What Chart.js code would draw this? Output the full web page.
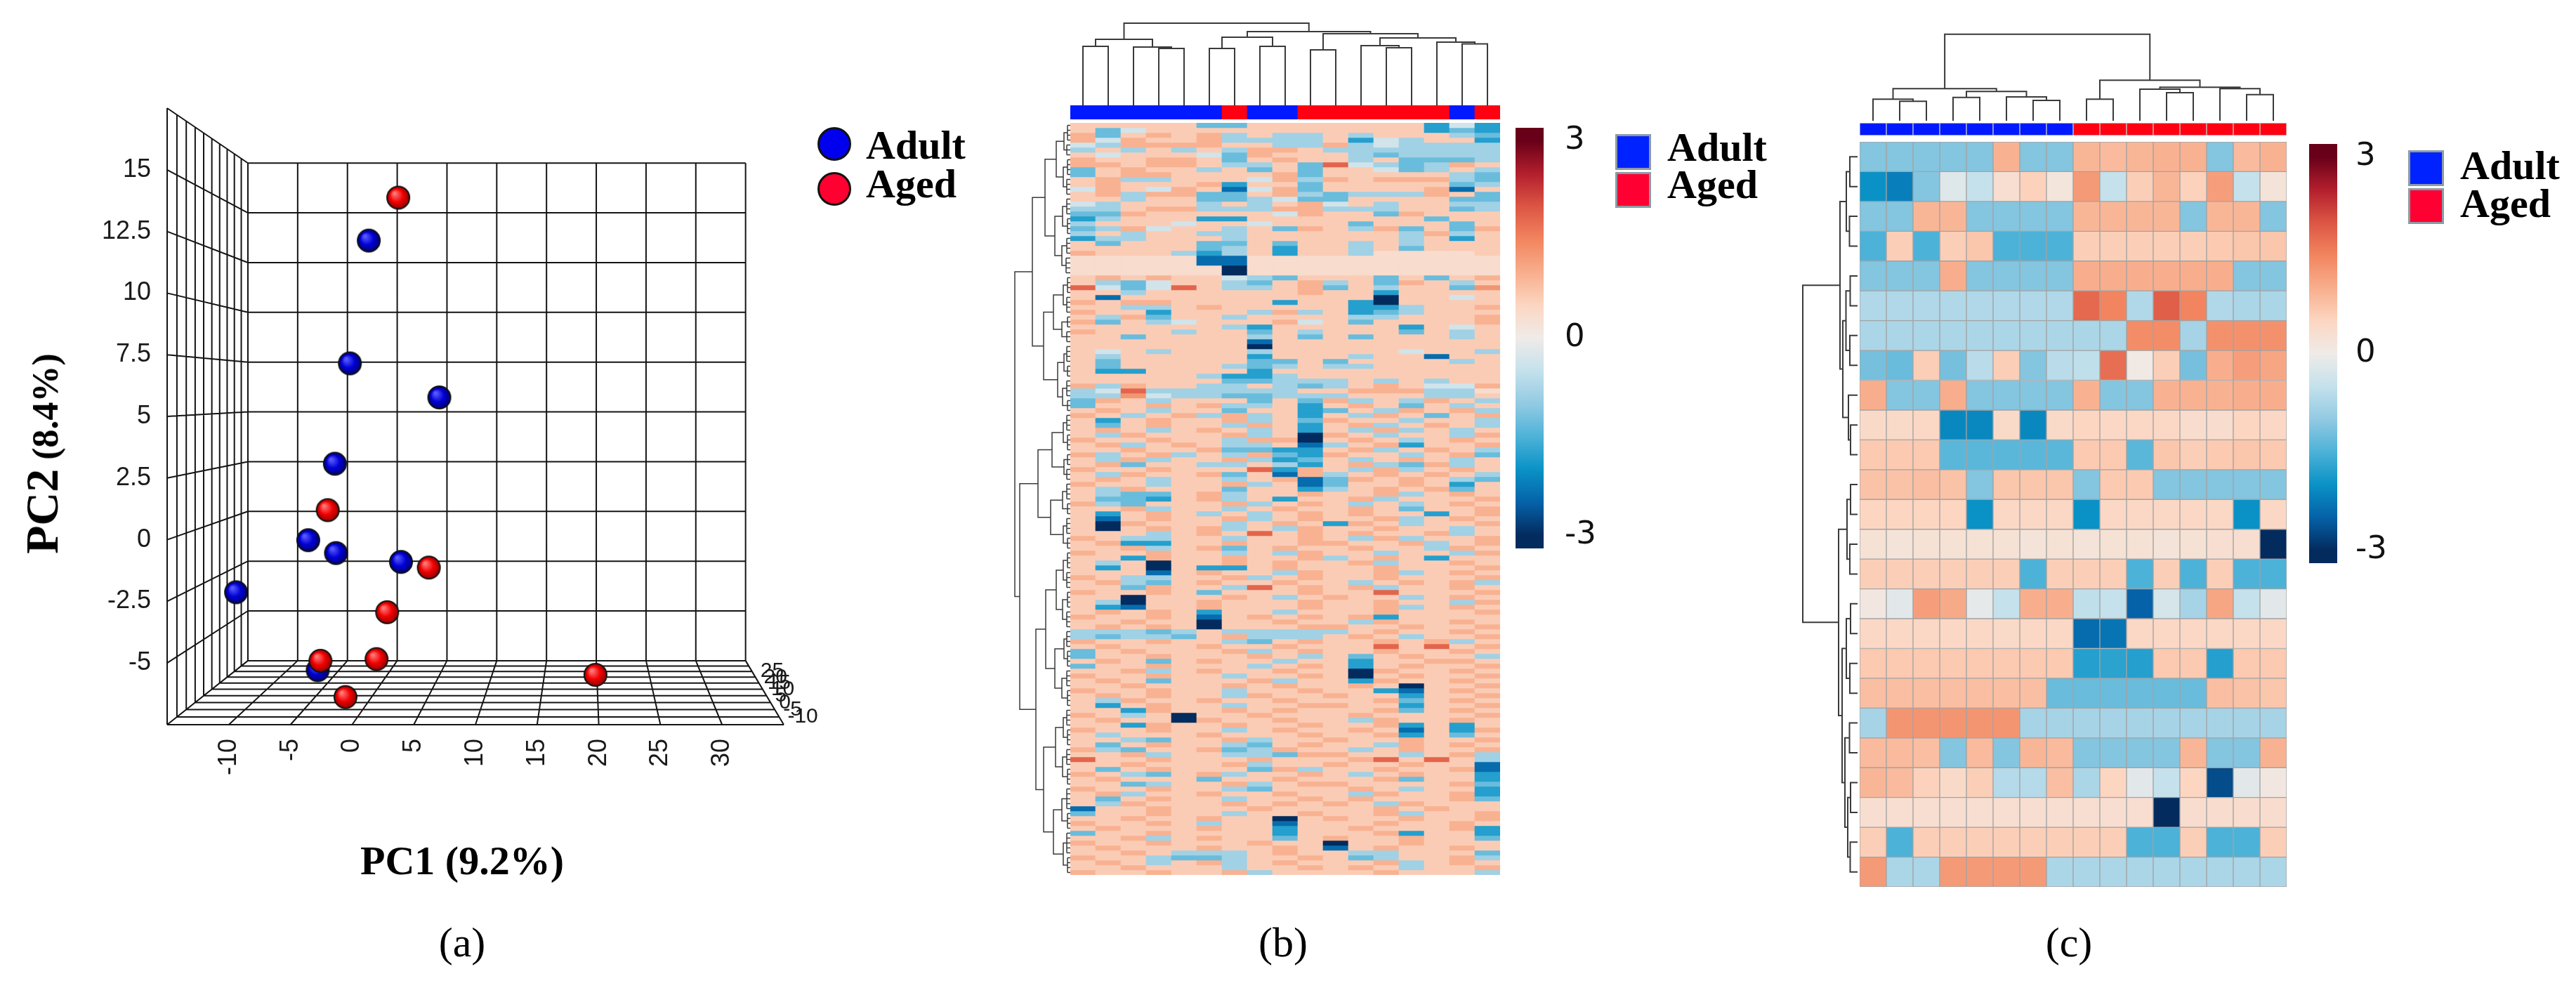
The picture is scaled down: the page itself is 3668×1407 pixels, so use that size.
<!DOCTYPE html>
<html><head><meta charset="utf-8"><title>PCA and heatmaps: Adult vs Aged</title>
<script src="https://cdn.jsdelivr.net/npm/chart.js@4.4.1/dist/chart.umd.min.js"></script>
<style>
html,body{margin:0;padding:0;background:#fff;}
#root{position:relative;width:3668px;height:1407px;overflow:hidden;background:#fff;}
#root canvas{position:absolute;}
.t{position:absolute;white-space:nowrap;color:#000;line-height:1;}
.sw{position:absolute;box-sizing:border-box;}
</style></head>
<body><div id="root"></div>
<script>
// ================= DATA =================
// (a) PCA scores (read on the front scale of the 3D box)
const pcaGroups = ['Adult', 'Aged'];
const adultPC1 = [1.35, -0.18, 7.07, -1.40, -3.56, -1.31, 3.96, -9.41, -2.79];
const adultPC2 = [12.13, 7.15, 5.77, 3.08, -0.02, -0.54, -0.90, -2.13, -5.29];
const agedPC1  = [3.74, -1.98, 6.22, 2.84, -2.57, 1.98, -0.54, 19.73];
const agedPC2  = [13.87, 1.20, -1.13, -2.94, -4.91, -4.84, -6.38, -5.48];
const pc1Ticks = [-10, -5, 0, 5, 10, 15, 20, 25, 30];
const pc2Ticks = [-5, -2.5, 0, 2.5, 5, 7.5, 10, 12.5, 15];
const pc3Ticks = [-10, -5, 0, 5, 10, 15, 20, 25];
const pc1Range = [-15, 35];
const pc2Range = [-7.5, 17.5];
const pc3Range = [-15, 35];

// (b) heatmap: 17 samples, rows coded as levels
const groupsB = ['Adult','Adult','Adult','Adult','Adult','Adult','Aged','Adult','Adult','Aged','Aged','Aged','Aged','Aged','Aged','Adult','Aged'];
const levelsB = {'0':-3,'1':-2.4,'2':-1.8,'3':-1.3,'4':-0.85,'5':-0.35,'6':0.35,'7':0.62,'8':0.95,'9':1.3,'r':1.85};
const heatB = [
"77777 33777 77772 52","73577 77777 77772 32","83787 84744 74777 43","85877 84444 72547 72","54888 87744 84544 44",
"47474 74887 44444 44","75777 53877 74344 44","87788 73787 74733 34","88788 74473 r5434 87","37877 47373 77534 74",
"37887 77783 77777 43","78447 77584 87888 43","78777 82773 77777 34","58758 71583 77778 17","78488 33784 34448 73",
"77477 33453 37777 33","54777 47478 57477 44","44788 44488 44477 34","33877 77758 77387 77","24777 22777 77773 77",
"47775 77577 73777 37","34857 74738 74837 38","47477 44777 77748 47","24477 74777 77747 27","73777 33737 74747 77",
"77777 34727 74737 77","87774 24727 74666 67","66666 11666 66666 66","66666 11666 66666 66","66666 60666 66666 66",
"66666 60666 66666 66","78787 75437 77373 78","74357 74378 47387 47","r535r 74478 37477 39","77477 77778 77277 77",
"71777 77777 77077 57","87887 77727 72077 77","77447 87777 72247 78","87727 77484 72347 77","74837 74777 74477 78",
"83745 77785 73777 78","77777 74277 77727 57","87774 77374 77737 47","77377 77473 73777 47","77777 77177 77777 77",
"77777 77077 77777 77","75747 77477 77757 74","74777 77277 74771 77","73777 77337 37777 47","73777 74347 44777 77",
"72277 77277 77777 77","77777 42247 77777 77","77777 73344 47474 77","84877 44743 47875 58","45r44 44447 78884 46",
"44954 43344 47774 47",
"38747 77373 84748 74","37787 84472 78737 47","78747 73772 37487 84","87478 48472 74873 78","72787 78473 87747 74",
"73787 74872 78478 74","78747 87472 74847 47","74877 78470 87477 48","87787 74880 78747 87","78478 74471 47827 78",
"77877 83322 78478 74","84784 74832 87747 83","74847 78423 74787 47","78377 44742 78438 47","87787 77r28 74847 87",
"74877 83718 47878 74","78747 74781 38787 43","87747 78471 37787 27","74877 73772 47878 37","74337 84778 77847 87",
"73327 84727 78477 78","84377 78478 74747 87","77847 74787 78737 78","72787 47478 78772 78","71787 78478 77847 87",
"70877 74787 28747 78","70787 84748 77877 47","77747 87r78 78778 47","87447 74778 74847 78","78227 78778 87784 78",
"77847 83787 78774 87","87787 74748 77477 48","77287 78778 47872 77","74707 78787 78477 87","72707 22787 77877 78",
"77717 87748 77847 87","87447 78478 77877 78","78437 87787 74787 84","77387 74r78 78477 87","87787 37778 77r77 78",
"77077 78747 87747 87","74077 87778 77877 48","72177 87778 77847 87","78787 27747 77877 78","87787 17878 78277 77",
"77877 07787 74877 87","78787 07778 87787 78","44434 74444 47877 87","43443 78444 78747 78","87787 74378 77878 47",
"78777 87787 77r7r 78","37877 78478 77877 87","37787 77874 73787 74","78737 87747 72778 87","37787 77478 72787 78",
"77847 87787 70877 87","87787 74778 70787 78","78737 77847 72877 87","77877 78787 78707 78","87787 74778 77217 87",
"78787 74877 87727 78","74877 87787 77837 87","72787 74778 87727 78","77287 78787 77837 87","87470 77877 78777 78",
"78770 87787 74877 87","77287 78778 77827 27","87787 74787 78717 28","74777 87778 77827 37","77437 78477 87787 78",
"73787 74378 77487 87","84377 83487 74787 78","77847 74438 87747 84","r7787 77877 78r7r 74","77877 78477 87787 71",
"73787 77384 77877 81","87437 84778 74787 72","78777 37787 77837 72","77347 78478 87777 83","87787 74377 78747 72",
"78477 87787 74877 82","73787 74778 78777 83","74877 78787 87487 77","17787 77877 77878 77","37787 74778 77847 78",
"77877 87707 87787 78","87787 47717 77877 87","78777 87727 78777 82","37787 77727 77827 72","77847 87737 87787 73",
"87787 77877 07787 77","78777 87787 17877 87","77874 44787 74477 73","87743 34778 73477 84","78747 84787 77847 87",
"77877 74778 78747 78","87787 78477 77877 74"
];
// column dendrogram (b): [left, right, height]
const colTreeB = [[[0,1,84],[2,[3,4,81],83],94],[[[5,6,81],[7,8,84],97],[[9,10,79],[[11,[12,13,82],85],[14,[15,16,87.5],90],96],102],105],117];
// row dendrogram (b): "first-last:height" are tight leaf blocks
const rowTreeB = [
  [[[["0-3:4","4-6:5",9],["7-10:4","11-14:5",10],20],[["15-18:5","19-22:4",11],["23-26:5","27-30:6",12],22],36],
   [[["31-34:4","35-38:5",10],["39-41:4","42-44:5",12],24],[["45-48:5","49-51:4",9],["52-55:5","56-58:4",11],18],38],54],
  [[[["59-62:5","63-66:4",10],["67-69:4","70-72:5",9],26],[["73-76:5","77-79:4",11],["80-83:5","84-86:4",10],28],46],
   [[[["87-90:4","91-94:5",10],["95-98:4","99-102:5",11],20],[["103-106:5","107-110:4",9],["111-114:5","115-118:4",12],22],35],
    [[["119-122:5","123-126:4",10],["127-130:5","131-134:4",11],21],[["135-139:5","140-143:4",12],["144-148:5","149-152:4",10],24],38],49],72],
  79];

// (c) heatmap: 16 samples x 25 features
const groupsC = ['Adult','Adult','Adult','Adult','Adult','Adult','Adult','Adult','Aged','Aged','Aged','Aged','Aged','Aged','Aged','Aged'];
const heatC = [
[-1.1,-1.1,-1.1,-1.1,-1.1,0.95,-1.1,-1.1,0.9,0.85,0.9,0.95,0.95,-1.1,0.85,0.95],
[-2.0,-2.2,-1.1,-0.2,-0.5,0.3,0.55,0.15,1.25,-0.5,0.6,0.9,0.55,1.2,-0.5,0.2],
[-1.1,-1.1,0.9,0.9,-1.1,-1.1,-1.1,-1.1,0.9,0.9,0.9,0.9,-1.1,0.9,0.9,-1.1],
[-1.5,0.6,-1.5,0.6,0.7,-1.5,-1.5,-1.5,0.6,0.6,0.6,0.6,0.6,0.65,0.7,0.7],
[-1.1,-1.1,-1.1,1.0,-1.1,-1.1,-1.1,-1.1,1.0,1.0,1.0,1.0,1.0,1.0,-1.1,-1.1],
[-0.7,-0.7,-0.7,-0.7,-0.7,-0.7,-0.7,-0.7,1.8,1.5,-0.7,1.9,1.5,-0.7,-0.75,-0.75],
[-0.75,-0.75,-0.75,-0.75,-0.75,-0.75,-0.75,-0.75,-0.75,-0.75,1.4,1.4,-0.8,1.35,1.35,1.35],
[-1.2,-1.3,0.6,-1.2,-0.6,0.6,-1.1,-0.6,-0.55,1.75,0.05,0.6,-1.2,1.0,1.2,1.1],
[1.0,-1.1,-1.1,1.0,-1.1,-1.1,-1.1,-1.1,0.95,-1.1,-1.1,0.95,0.95,0.95,1.0,1.0],
[0.4,0.4,0.45,-2.1,-2.1,0.4,-2.1,0.4,0.5,0.45,0.45,0.45,0.35,0.35,0.5,0.45],
[0.65,0.65,0.65,-1.4,-1.4,-1.4,-1.4,-1.4,0.65,0.65,-1.4,0.7,0.6,0.65,0.7,0.65],
[0.75,0.75,0.8,0.75,-1.1,0.7,0.7,0.7,-1.1,0.65,0.65,-1.1,-1.1,-1.1,-1.1,-1.1],
[0.5,0.5,0.5,0.5,-2.0,0.45,0.45,0.45,-2.0,0.45,0.45,0.45,0.45,0.45,-2.0,0.45],
[0.25,0.2,0.25,0.25,0.25,0.25,0.2,0.25,0.2,0.25,0.25,0.2,0.25,0.3,0.3,-3.0],
[0.6,0.6,0.6,0.6,0.6,0.6,-1.5,0.6,0.6,0.6,-1.5,0.6,-1.5,0.6,-1.5,-1.5],
[0.1,-0.15,1.2,1.05,-0.1,-0.5,1.0,1.0,-0.55,-0.5,-2.5,-0.3,-0.8,1.1,-0.5,-0.15],
[0.45,0.45,0.45,0.45,0.45,0.4,0.45,0.45,-2.4,-2.3,0.45,0.45,0.45,0.45,0.45,0.45],
[0.65,0.65,0.65,0.65,0.65,0.65,0.65,0.65,-1.8,-1.75,-1.8,0.65,0.65,-1.8,0.65,0.65],
[0.8,0.8,0.8,0.8,0.8,0.8,0.8,-1.3,-1.3,-1.3,-1.3,-1.3,-1.3,0.8,0.75,0.7],
[-0.8,1.3,1.3,1.3,1.3,1.3,-0.8,-0.8,-0.8,-0.8,-0.8,-0.8,-0.8,-0.8,-0.8,-0.8],
[0.85,0.85,0.8,-1.1,0.85,-1.1,0.9,0.85,-1.1,-1.1,-1.1,-1.1,0.9,-1.1,-1.1,0.95],
[0.9,0.85,0.55,0.4,0.6,-0.65,-0.65,0.8,-0.75,0.5,-0.15,-0.5,0.5,-2.7,-0.15,0.1],
[0.3,0.3,0.3,0.3,0.3,0.3,0.3,0.3,0.3,0.3,0.3,-3.0,0.35,0.35,0.35,0.35],
[0.6,-1.5,0.6,0.6,0.6,0.6,0.6,0.6,0.6,0.6,-1.5,-1.5,0.6,-1.5,-1.5,0.6],
[1.25,-0.75,-0.75,1.25,1.25,1.25,1.25,-0.75,-0.75,-0.75,-0.75,-0.75,-0.75,-0.75,-0.75,-0.75]
];
const colTreeC = [[[0,[1,2,27.7],30.7],[[3,4,33.3],[5,[6,7,29],34],41.7],45.7],[[8,9,30.7],[[10,[11,12,40],45],[13,[14,15,37.3],45.7],47.7],57.7],123.3];
const rowTreeC = [[[[0,1,11],[2,3,11.5],16],[[[4,5,10.5],[6,7,11],16.5],[8,[9,10,10],13],21],25],[[[11,12,10],[13,14,11],15],[[[15,16,10],[17,18,11],16],[[19,20,11.5],[[21,22,10],[23,24,10.5],14],18],22],27],78];

const colorbarTicks = [3, 0, -3];
const colorbarRange = [-3.2, 3.2];

// ================= STYLE =================
const heatStops  = [-3, -2.5, -2, -1.5, -1, -0.5, 0, 0.5, 1, 1.5, 2, 2.5, 3];
const heatColors = ['#032b5e','#0562a8','#0a92c6','#4db2d8','#92cae2','#c4e1ec','#efebe8','#fcd6c1','#f8ae8d','#f2855f','#dc5644','#b31f2d','#680019'];
const groupColor = {Adult:'#0019ff', Aged:'#ff0012'};

function hexRgb(h){return [parseInt(h.slice(1,3),16),parseInt(h.slice(3,5),16),parseInt(h.slice(5,7),16)];}
function heatColor(v){
  v = Math.max(heatStops[0], Math.min(heatStops[heatStops.length-1], v));
  for (let i=0;i<heatStops.length-1;i++){
    if (v <= heatStops[i+1]){
      const t=(v-heatStops[i])/(heatStops[i+1]-heatStops[i]);
      const a=hexRgb(heatColors[i]), b=hexRgb(heatColors[i+1]);
      return 'rgb('+a.map((c,k)=>Math.round(c+(b[k]-c)*t)).join(',')+')';
    }
  }
  return heatColors[heatColors.length-1];
}

Chart.defaults.animation = false;
Chart.defaults.responsive = false;
Chart.defaults.devicePixelRatio = 1;
Chart.defaults.events = [];
Chart.defaults.plugins.legend.display = false;
Chart.defaults.plugins.tooltip.enabled = false;

const root = document.getElementById('root');
function mkCanvas(l,t,w,h){const c=document.createElement('canvas');c.width=w;c.height=h;c.style.left=l+'px';c.style.top=t+'px';c.style.width=w+'px';c.style.height=h+'px';root.appendChild(c);return c;}
const SERIF='"Liberation Serif","DejaVu Serif",serif';
function txt(html,x,base,size,opt){
  opt=opt||{};const d=document.createElement('div');d.className='t';d.innerHTML=html;
  d.style.fontSize=size+'px';d.style.fontFamily=opt.family||SERIF;d.style.fontWeight=opt.weight||'normal';
  d.style.top=(base-0.84*size)+'px';d.style.left=x+'px';
  if(opt.align==='center')d.style.transform='translateX(-50%)';
  root.appendChild(d);return d;
}
function swatch(l,t,w,h,bg,border){const d=document.createElement('div');d.className='sw';d.style.left=l+'px';d.style.top=t+'px';d.style.width=w+'px';d.style.height=h+'px';d.style.background=bg;d.style.border=border;root.appendChild(d);return d;}

// ================= (a) 3D PCA =================
function sphere(r,hi,mid,lo){
  const s=2*r+4,c=document.createElement('canvas');c.width=c.height=s;const g=c.getContext('2d');const cx=s/2,cy=s/2;
  const gr=g.createRadialGradient(cx-r*0.35,cy-r*0.4,r*0.08,cx,cy,r);
  gr.addColorStop(0,hi);gr.addColorStop(0.55,mid);gr.addColorStop(1,lo);
  g.beginPath();g.arc(cx,cy,r,0,Math.PI*2);g.fillStyle=gr;g.fill();g.lineWidth=2;g.strokeStyle='#111';g.stroke();return c;
}
const sphBlue=sphere(16,'#5a5aff','#0000d6','#000070');
const sphRed=sphere(16,'#ff7a7a','#f20000','#900000');

function rangeSteps(a,b,s){const o=[];for(let v=a;v<=b+1e-9;v+=s)o.push(+v.toFixed(4));return o;}
const box3d={
  id:'box3d',
  proj(chart,xv,yv,d){
    const xs=chart.scales.x,ys=chart.scales.y,a=chart.chartArea;
    const vx=a.left+0.679*(a.right-a.left), vy=a.top+0.462*(a.bottom-a.top), s=1/(1+0.239*d);
    const fx=xs.getPixelForValue(xv), fy=ys.getPixelForValue(yv);
    return [vx+(fx-vx)*s, vy+(fy-vy)*s];
  },
  beforeDatasetsDraw(chart){
    const ctx=chart.ctx,P=(x,y,d)=>this.proj(chart,x,y,d);
    const xg=rangeSteps(pc1Range[0],pc1Range[1],5), yg=rangeSteps(pc2Range[0],pc2Range[1],2.5);
    const dg=rangeSteps(pc3Range[0],pc3Range[1],5).map(v=>(v-pc3Range[0])/(pc3Range[1]-pc3Range[0]));
    const x0=pc1Range[0],x1=pc1Range[1],y0=pc2Range[0],y1=pc2Range[1];
    ctx.save();ctx.beginPath();ctx.strokeStyle='#141414';ctx.lineWidth=2;
    const L=(p,q)=>{ctx.moveTo(p[0],p[1]);ctx.lineTo(q[0],q[1]);};
    xg.forEach(v=>L(P(v,y0,1),P(v,y1,1))); yg.forEach(v=>L(P(x0,v,1),P(x1,v,1)));
    dg.forEach(d=>L(P(x0,y0,d),P(x0,y1,d))); yg.forEach(v=>L(P(x0,v,0),P(x0,v,1)));
    dg.forEach(d=>L(P(x0,y0,d),P(x1,y0,d))); xg.forEach(v=>L(P(v,y0,0),P(v,y0,1)));
    ctx.stroke();ctx.restore();
  },
  afterDraw(chart){
    const ctx=chart.ctx,xs=chart.scales.x,ys=chart.scales.y,a=chart.chartArea;
    ctx.save();ctx.fillStyle='#1a1a1a';ctx.font='36px "Liberation Sans", Arial, sans-serif';
    ctx.textAlign='right';ctx.textBaseline='middle';
    pc2Ticks.forEach(v=>ctx.fillText(String(v),a.left-23,ys.getPixelForValue(v)));
    pc1Ticks.forEach(v=>{ctx.save();ctx.translate(xs.getPixelForValue(v),a.bottom+20);ctx.rotate(-Math.PI/2);ctx.fillText(String(v),0,0);ctx.restore();});
    ctx.font='30px "Liberation Sans", Arial, sans-serif';ctx.textAlign='left';
    pc3Ticks.forEach(v=>{const d=(v-pc3Range[0])/(pc3Range[1]-pc3Range[0]);const p=this.proj(chart,pc1Range[1],pc2Range[0],d);ctx.fillText(String(v),p[0]+12,p[1]);});
    ctx.restore();
  }
};
new Chart(mkCanvas(0,0,1270,1407),{
  type:'scatter',
  data:{datasets:[
    {label:pcaGroups[1],data:agedPC1.map((x,i)=>({x,y:agedPC2[i]})),pointStyle:sphRed,pointRadius:16},
    {label:pcaGroups[0],data:adultPC1.map((x,i)=>({x,y:adultPC2[i]})),pointStyle:sphBlue,pointRadius:16}
  ]},
  options:{layout:{padding:{left:238,top:154,right:154,bottom:375}},
    scales:{x:{type:'linear',display:false,min:pc1Range[0],max:pc1Range[1]},y:{type:'linear',display:false,min:pc2Range[0],max:pc2Range[1]}}},
  plugins:[box3d]
});
// legend (a)
swatch(1164,181,48,48,'#0000ee','3px solid #111').style.borderRadius='50%';
swatch(1164,245,48,48,'#ff0030','3px solid #111').style.borderRadius='50%';
txt(pcaGroups[0],1233,227,58,{weight:'bold'});
txt(pcaGroups[1],1233,282,58,{weight:'bold'});
// axis titles (a)
(function(){const d=document.createElement('div');d.className='t';
  d.innerHTML='<span style="font-size:66px">PC2</span><span style="font-size:52px"> (8.4%)</span>';
  d.style.fontFamily=SERIF;d.style.fontWeight='bold';d.style.left='60px';d.style.top='646px';
  d.style.transform='translate(-50%,-50%) rotate(-90deg)';root.appendChild(d);})();
txt('PC1 (9.2%)',658,1246,58,{weight:'bold',align:'center'});
txt('(a)',658,1362,60,{align:'center'});
txt('(b)',1827,1362,60,{align:'center'});
txt('(c)',2946,1362,60,{align:'center'});

// ================= heatmaps =================
function heatmap(canvas,rows,groups,border){
  new Chart(canvas,{type:'bar',
    data:{labels:groups.map((g,i)=>g+' '+(i+1)),
      datasets:rows.map(r=>({data:r.map(()=>1),backgroundColor:r.map(heatColor),borderWidth:border?1:0,borderColor:border||'transparent',borderSkipped:false,barPercentage:1,categoryPercentage:1}))},
    options:{layout:{padding:0},scales:{x:{display:false,stacked:true},y:{display:false,stacked:true,reverse:true,min:0,max:rows.length}}}});
}
function annot(canvas,groups,border){
  new Chart(canvas,{type:'bar',
    data:{labels:groups.map((g,i)=>g+' '+(i+1)),datasets:[{data:groups.map(()=>1),backgroundColor:groups.map(g=>groupColor[g]),borderWidth:border?1:0,borderColor:border||'transparent',borderSkipped:false,barPercentage:1,categoryPercentage:1}]},
    options:{layout:{padding:0},scales:{x:{display:false},y:{display:false,min:0,max:1}}}});
}
function buildTree(node,pts,orient){
  const P=(p,h)=>orient==='top'?{x:p,y:h}:{x:h,y:p};
  const poly=arr=>{arr.forEach(q=>pts.push(P(q[0],q[1])));pts.push({x:null,y:null});};
  if(typeof node==='number')return{p:node,h:0};
  if(typeof node==='string'){
    const parts=node.split(':'),ab=parts[0].split('-').map(Number),h=+parts[1];
    for(let i=ab[0];i<=ab[1];i++)poly([[i,0],[i,h]]);
    poly([[ab[0],h],[ab[1],h]]);return{p:(ab[0]+ab[1])/2,h};
  }
  const L=buildTree(node[0],pts,orient),R=buildTree(node[1],pts,orient),h=node[2];
  poly([[L.p,L.h],[L.p,h],[R.p,h],[R.p,R.h]]);
  return{p:(L.p+R.p)/2,h};
}
function dendro(canvas,tree,orient,n,hMax,pad,lw){
  const pts=[];buildTree(tree,pts,orient);
  const sc=orient==='top'
    ?{x:{type:'linear',display:false,min:-0.5,max:n-0.5},y:{type:'linear',display:false,min:0,max:hMax}}
    :{x:{type:'linear',display:false,min:0,max:hMax,reverse:true},y:{type:'linear',display:false,min:-0.5,max:n-0.5,reverse:true}};
  new Chart(canvas,{type:'scatter',data:{datasets:[{data:pts,showLine:true,spanGaps:false,pointRadius:0,borderColor:'#3a3a3a',borderWidth:lw,clip:false}]},
    options:{layout:{padding:pad},scales:sc}});
}
const cbar={id:'cbar',afterDraw(chart){
  const ctx=chart.ctx,a=chart.chartArea,ys=chart.scales.y,gap=chart.options.plugins.cbar.gap;
  const g=ctx.createLinearGradient(0,a.bottom,0,a.top);
  heatStops.forEach((v,i)=>{const off=(ys.getPixelForValue(v)-a.bottom)/(a.top-a.bottom);g.addColorStop(Math.max(0,Math.min(1,off)),heatColors[i]);});
  ctx.save();ctx.fillStyle=g;ctx.fillRect(a.left,a.top,a.right-a.left,a.bottom-a.top);
  ctx.fillStyle='#111';ctx.font='45px "DejaVu Sans", sans-serif';ctx.textAlign='left';ctx.textBaseline='middle';
  colorbarTicks.forEach(v=>ctx.fillText(String(v),a.right+gap,ys.getPixelForValue(v)));ctx.restore();
}};
function colorbar(canvas,pad,gap){
  new Chart(canvas,{type:'scatter',data:{datasets:[]},
    options:{layout:{padding:pad},plugins:{cbar:{gap}},scales:{x:{display:false,min:0,max:1},y:{display:false,min:colorbarRange[0],max:colorbarRange[1]}}},
    plugins:[cbar]});
}

// (b)
const heatBvals=heatB.map(s=>s.replace(/ /g,'').split('').map(ch=>levelsB[ch]));
heatmap(mkCanvas(1524,175,612,1071),heatBvals,groupsB,null);
annot(mkCanvas(1524,150,612,20),groupsB,null);
dendro(mkCanvas(1524,25,612,125),colTreeB,'top',groupsB.length,117,{top:8,left:0,right:0,bottom:0},2);
dendro(mkCanvas(1436,175,90,1071),rowTreeB,'left',heatBvals.length,80,{left:8,right:2,top:0,bottom:0},1.5);
colorbar(mkCanvas(2158,150,142,660),{left:0,top:32,right:102,bottom:29},30);
swatch(2300,191,51,51,'#0022ff','3px solid #8d9aa5');
swatch(2300,245,51,51,'#ff0033','3px solid #8d9aa5');
txt('Adult',2374,230,58,{weight:'bold'});
txt('Aged',2374,283,58,{weight:'bold'});

// (c)
heatmap(mkCanvas(2648,202,608,1061),heatC,groupsC,'#a3a3a3');
annot(mkCanvas(2648,175,608,18),groupsC,'#c9c9c9');
dendro(mkCanvas(2648,40,608,132),colTreeC,'top',groupsC.length,124,{top:8,left:0,right:0,bottom:0},2);
dendro(mkCanvas(2557,202,91,1061),rowTreeC,'left',heatC.length,80,{left:8,right:3,top:0,bottom:0},2);
colorbar(mkCanvas(3288,170,142,670),{left:0,top:35,right:102,bottom:38},26);
swatch(3429,214,51,51,'#0022ff','3px solid #8d9aa5');
swatch(3429,268,51,51,'#ff0033','3px solid #8d9aa5');
txt('Adult',3503,256,58,{weight:'bold'});
txt('Aged',3503,310,58,{weight:'bold'});
</script>
</body></html>
